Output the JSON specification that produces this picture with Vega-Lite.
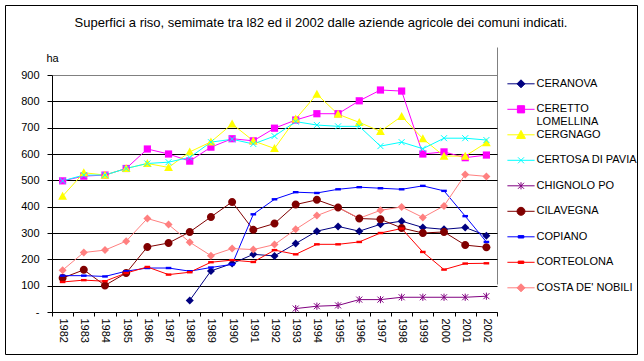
{
  "$schema": "https://vega.github.io/schema/vega-lite/v6.json",
  "width": 632,
  "height": 349,
  "autosize": "none",
  "padding": {"left": 5, "top": 5, "right": 7, "bottom": 7},
  "background": "white",
  "title": {
    "text": "Superfici a riso, semimate tra l82 ed il 2002 dalle aziende agricole dei comuni indicati.",
    "anchor": "middle",
    "frame": "group",
    "orient": "top",
    "offset": -31,
    "baseline": "middle",
    "font": "Liberation Sans",
    "fontSize": 13,
    "fontWeight": "normal",
    "color": "black"
  },
  "config": {
    "view": {"stroke": "black", "strokeWidth": 1},
    "axis": {"labelFont": "Liberation Sans", "labelFontSize": 11, "labelColor": "black", "tickColor": "black", "domainColor": "black", "titleFont": "Liberation Sans"}
  },
  "data": {"values": [
    {"y": "1988", "s": "CERANOVA", "v": 44}, {"y": "1989", "s": "CERANOVA", "v": 156}, {"y": "1990", "s": "CERANOVA", "v": 184}, {"y": "1991", "s": "CERANOVA", "v": 219}, {"y": "1992", "s": "CERANOVA", "v": 213}, {"y": "1993", "s": "CERANOVA", "v": 260}, {"y": "1994", "s": "CERANOVA", "v": 307}, {"y": "1995", "s": "CERANOVA", "v": 325}, {"y": "1996", "s": "CERANOVA", "v": 307}, {"y": "1997", "s": "CERANOVA", "v": 333}, {"y": "1998", "s": "CERANOVA", "v": 345}, {"y": "1999", "s": "CERANOVA", "v": 321}, {"y": "2000", "s": "CERANOVA", "v": 314}, {"y": "2001", "s": "CERANOVA", "v": 321}, {"y": "2002", "s": "CERANOVA", "v": 290},
    {"y": "1982", "s": "CERETTO LOMELLINA", "v": 498}, {"y": "1983", "s": "CERETTO LOMELLINA", "v": 516}, {"y": "1984", "s": "CERETTO LOMELLINA", "v": 520}, {"y": "1985", "s": "CERETTO LOMELLINA", "v": 545}, {"y": "1986", "s": "CERETTO LOMELLINA", "v": 619}, {"y": "1987", "s": "CERETTO LOMELLINA", "v": 600}, {"y": "1988", "s": "CERETTO LOMELLINA", "v": 573}, {"y": "1989", "s": "CERETTO LOMELLINA", "v": 626}, {"y": "1990", "s": "CERETTO LOMELLINA", "v": 658}, {"y": "1991", "s": "CERETTO LOMELLINA", "v": 650}, {"y": "1992", "s": "CERETTO LOMELLINA", "v": 698}, {"y": "1993", "s": "CERETTO LOMELLINA", "v": 729}, {"y": "1994", "s": "CERETTO LOMELLINA", "v": 753}, {"y": "1995", "s": "CERETTO LOMELLINA", "v": 753}, {"y": "1996", "s": "CERETTO LOMELLINA", "v": 802}, {"y": "1997", "s": "CERETTO LOMELLINA", "v": 843}, {"y": "1998", "s": "CERETTO LOMELLINA", "v": 839}, {"y": "1999", "s": "CERETTO LOMELLINA", "v": 600}, {"y": "2000", "s": "CERETTO LOMELLINA", "v": 608}, {"y": "2001", "s": "CERETTO LOMELLINA", "v": 586}, {"y": "2002", "s": "CERETTO LOMELLINA", "v": 596},
    {"y": "1982", "s": "CERGNAGO", "v": 440}, {"y": "1983", "s": "CERGNAGO", "v": 529}, {"y": "1984", "s": "CERGNAGO", "v": 520}, {"y": "1985", "s": "CERGNAGO", "v": 545}, {"y": "1986", "s": "CERGNAGO", "v": 564}, {"y": "1987", "s": "CERGNAGO", "v": 549}, {"y": "1988", "s": "CERGNAGO", "v": 608}, {"y": "1989", "s": "CERGNAGO", "v": 646}, {"y": "1990", "s": "CERGNAGO", "v": 714}, {"y": "1991", "s": "CERGNAGO", "v": 650}, {"y": "1992", "s": "CERGNAGO", "v": 621}, {"y": "1993", "s": "CERGNAGO", "v": 733}, {"y": "1994", "s": "CERGNAGO", "v": 827}, {"y": "1995", "s": "CERGNAGO", "v": 751}, {"y": "1996", "s": "CERGNAGO", "v": 720}, {"y": "1997", "s": "CERGNAGO", "v": 686}, {"y": "1998", "s": "CERGNAGO", "v": 743}, {"y": "1999", "s": "CERGNAGO", "v": 658}, {"y": "2000", "s": "CERGNAGO", "v": 592}, {"y": "2001", "s": "CERGNAGO", "v": 592}, {"y": "2002", "s": "CERGNAGO", "v": 643},
    {"y": "1982", "s": "CERTOSA DI PAVIA", "v": 498}, {"y": "1983", "s": "CERTOSA DI PAVIA", "v": 520}, {"y": "1984", "s": "CERTOSA DI PAVIA", "v": 520}, {"y": "1985", "s": "CERTOSA DI PAVIA", "v": 545}, {"y": "1986", "s": "CERTOSA DI PAVIA", "v": 564}, {"y": "1987", "s": "CERTOSA DI PAVIA", "v": 569}, {"y": "1988", "s": "CERTOSA DI PAVIA", "v": 587}, {"y": "1989", "s": "CERTOSA DI PAVIA", "v": 645}, {"y": "1990", "s": "CERTOSA DI PAVIA", "v": 656}, {"y": "1991", "s": "CERTOSA DI PAVIA", "v": 638}, {"y": "1992", "s": "CERTOSA DI PAVIA", "v": 668}, {"y": "1993", "s": "CERTOSA DI PAVIA", "v": 723}, {"y": "1994", "s": "CERTOSA DI PAVIA", "v": 710}, {"y": "1995", "s": "CERTOSA DI PAVIA", "v": 705}, {"y": "1996", "s": "CERTOSA DI PAVIA", "v": 705}, {"y": "1997", "s": "CERTOSA DI PAVIA", "v": 630}, {"y": "1998", "s": "CERTOSA DI PAVIA", "v": 645}, {"y": "1999", "s": "CERTOSA DI PAVIA", "v": 620}, {"y": "2000", "s": "CERTOSA DI PAVIA", "v": 660}, {"y": "2001", "s": "CERTOSA DI PAVIA", "v": 660}, {"y": "2002", "s": "CERTOSA DI PAVIA", "v": 653},
    {"y": "1993", "s": "CHIGNOLO PO", "v": 13}, {"y": "1994", "s": "CHIGNOLO PO", "v": 22}, {"y": "1995", "s": "CHIGNOLO PO", "v": 25}, {"y": "1996", "s": "CHIGNOLO PO", "v": 47}, {"y": "1997", "s": "CHIGNOLO PO", "v": 47}, {"y": "1998", "s": "CHIGNOLO PO", "v": 56}, {"y": "1999", "s": "CHIGNOLO PO", "v": 56}, {"y": "2000", "s": "CHIGNOLO PO", "v": 56}, {"y": "2001", "s": "CHIGNOLO PO", "v": 56}, {"y": "2002", "s": "CHIGNOLO PO", "v": 60},
    {"y": "1982", "s": "CILAVEGNA", "v": 129}, {"y": "1983", "s": "CILAVEGNA", "v": 160}, {"y": "1984", "s": "CILAVEGNA", "v": 101}, {"y": "1985", "s": "CILAVEGNA", "v": 148}, {"y": "1986", "s": "CILAVEGNA", "v": 247}, {"y": "1987", "s": "CILAVEGNA", "v": 262}, {"y": "1988", "s": "CILAVEGNA", "v": 304}, {"y": "1989", "s": "CILAVEGNA", "v": 361}, {"y": "1990", "s": "CILAVEGNA", "v": 418}, {"y": "1991", "s": "CILAVEGNA", "v": 312}, {"y": "1992", "s": "CILAVEGNA", "v": 336}, {"y": "1993", "s": "CILAVEGNA", "v": 408}, {"y": "1994", "s": "CILAVEGNA", "v": 426}, {"y": "1995", "s": "CILAVEGNA", "v": 397}, {"y": "1996", "s": "CILAVEGNA", "v": 355}, {"y": "1997", "s": "CILAVEGNA", "v": 352}, {"y": "1998", "s": "CILAVEGNA", "v": 319}, {"y": "1999", "s": "CILAVEGNA", "v": 300}, {"y": "2000", "s": "CILAVEGNA", "v": 304}, {"y": "2001", "s": "CILAVEGNA", "v": 254}, {"y": "2002", "s": "CILAVEGNA", "v": 246},
    {"y": "1982", "s": "COPIANO", "v": 138}, {"y": "1983", "s": "COPIANO", "v": 138}, {"y": "1984", "s": "COPIANO", "v": 135}, {"y": "1985", "s": "COPIANO", "v": 155}, {"y": "1986", "s": "COPIANO", "v": 167}, {"y": "1987", "s": "COPIANO", "v": 167}, {"y": "1988", "s": "COPIANO", "v": 155}, {"y": "1989", "s": "COPIANO", "v": 169}, {"y": "1990", "s": "COPIANO", "v": 181}, {"y": "1991", "s": "COPIANO", "v": 371}, {"y": "1992", "s": "COPIANO", "v": 428}, {"y": "1993", "s": "COPIANO", "v": 455}, {"y": "1994", "s": "COPIANO", "v": 452}, {"y": "1995", "s": "COPIANO", "v": 466}, {"y": "1996", "s": "COPIANO", "v": 474}, {"y": "1997", "s": "COPIANO", "v": 470}, {"y": "1998", "s": "COPIANO", "v": 466}, {"y": "1999", "s": "COPIANO", "v": 479}, {"y": "2000", "s": "COPIANO", "v": 460}, {"y": "2001", "s": "COPIANO", "v": 364}, {"y": "2002", "s": "COPIANO", "v": 266},
    {"y": "1982", "s": "CORTEOLONA", "v": 114}, {"y": "1983", "s": "CORTEOLONA", "v": 121}, {"y": "1984", "s": "CORTEOLONA", "v": 117}, {"y": "1985", "s": "CORTEOLONA", "v": 148}, {"y": "1986", "s": "CORTEOLONA", "v": 171}, {"y": "1987", "s": "CORTEOLONA", "v": 142}, {"y": "1988", "s": "CORTEOLONA", "v": 151}, {"y": "1989", "s": "CORTEOLONA", "v": 189}, {"y": "1990", "s": "CORTEOLONA", "v": 197}, {"y": "1991", "s": "CORTEOLONA", "v": 190}, {"y": "1992", "s": "CORTEOLONA", "v": 235}, {"y": "1993", "s": "CORTEOLONA", "v": 219}, {"y": "1994", "s": "CORTEOLONA", "v": 257}, {"y": "1995", "s": "CORTEOLONA", "v": 257}, {"y": "1996", "s": "CORTEOLONA", "v": 266}, {"y": "1997", "s": "CORTEOLONA", "v": 300}, {"y": "1998", "s": "CORTEOLONA", "v": 317}, {"y": "1999", "s": "CORTEOLONA", "v": 228}, {"y": "2000", "s": "CORTEOLONA", "v": 161}, {"y": "2001", "s": "CORTEOLONA", "v": 184}, {"y": "2002", "s": "CORTEOLONA", "v": 185},
    {"y": "1982", "s": "COSTA DE' NOBILI", "v": 159}, {"y": "1983", "s": "COSTA DE' NOBILI", "v": 226}, {"y": "1984", "s": "COSTA DE' NOBILI", "v": 235}, {"y": "1985", "s": "COSTA DE' NOBILI", "v": 269}, {"y": "1986", "s": "COSTA DE' NOBILI", "v": 355}, {"y": "1987", "s": "COSTA DE' NOBILI", "v": 332}, {"y": "1988", "s": "COSTA DE' NOBILI", "v": 265}, {"y": "1989", "s": "COSTA DE' NOBILI", "v": 214}, {"y": "1990", "s": "COSTA DE' NOBILI", "v": 241}, {"y": "1991", "s": "COSTA DE' NOBILI", "v": 237}, {"y": "1992", "s": "COSTA DE' NOBILI", "v": 256}, {"y": "1993", "s": "COSTA DE' NOBILI", "v": 314}, {"y": "1994", "s": "COSTA DE' NOBILI", "v": 366}, {"y": "1995", "s": "COSTA DE' NOBILI", "v": 397}, {"y": "1996", "s": "COSTA DE' NOBILI", "v": 356}, {"y": "1997", "s": "COSTA DE' NOBILI", "v": 386}, {"y": "1998", "s": "COSTA DE' NOBILI", "v": 399}, {"y": "1999", "s": "COSTA DE' NOBILI", "v": 359}, {"y": "2000", "s": "COSTA DE' NOBILI", "v": 403}, {"y": "2001", "s": "COSTA DE' NOBILI", "v": 522}, {"y": "2002", "s": "COSTA DE' NOBILI", "v": 515}
  ]},
  "encoding": {
    "x": {
      "field": "y", "type": "ordinal",
      "scale": {"type": "band", "range": [47, 492], "paddingInner": 0, "paddingOuter": 0},
      "axis": {
        "title": null, "tickBand": "extent", "labelAngle": 90, "tickSize": 4, "labelPadding": 2, "offset": -42, "labelOverlap": false,
        "grid": true, "gridColor": "#808080",
        "gridOpacity": {"condition": {"test": "datum.value == '2002'", "value": 1}, "value": 0}
      }
    },
    "y": {
      "field": "v", "type": "quantitative",
      "scale": {"domain": [0, 900], "range": [307, 70], "nice": false, "zero": true},
      "axis": {
        "title": "ha", "titleAngle": 0, "titleX": -6, "titleY": 53, "titleAlign": "left", "titleBaseline": "middle",
        "titleFontSize": 11, "titleFontWeight": "normal", "titleColor": "black",
        "values": [0, 100, 200, 300, 400, 500, 600, 700, 800, 900],
        "labelExpr": "datum.value == 0 ? '-' : datum.label",
        "grid": true,
        "gridColor": {"condition": {"test": "datum.value == 900", "value": "#808080"}, "value": "#000000"},
        "gridOpacity": 1,
        "offset": -47, "tickSize": 5, "labelPadding": 8
      }
    },
    "color": {
      "field": "s", "type": "nominal",
      "scale": {
        "domain": ["CERANOVA", "CERETTO LOMELLINA", "CERGNAGO", "CERTOSA DI PAVIA", "CHIGNOLO PO", "CILAVEGNA", "COPIANO", "CORTEOLONA", "COSTA DE' NOBILI"],
        "range": ["#000080", "#FF00FF", "#FFFF00", "#00FFFF", "#800080", "#800000", "#0000FF", "#FF0000", "#FF8080"]
      },
      "legend": {
        "orient": "none", "legendX": 510.5, "legendY": 73.3, "title": null, "padding": 0,
        "labelOffset": 10, "symbolSize": 64, "rowPadding": 0.5, "gridAlign": "all",
        "labelFont": "Liberation Sans", "labelFontSize": 11, "labelColor": "black", "labelLimit": 200,
        "labelExpr": "datum.label == 'CERETTO LOMELLINA' ? ['CERETTO', 'LOMELLINA'] : datum.label",
        "encode": {
          "symbols": {
            "update": {
              "shape": {"signal": "['M-3.4,0H3.4M0,-1L1,0L0,1L-1,0Z', 'M-3.4,0H3.4M-0.9,-0.9H0.9V0.9H-0.9Z', 'M-3.4,0H3.4M0,-1.1L1.1,0.9H-1.1Z', 'M-3.4,0H3.4M-0.75,-0.75L0.75,0.75M-0.75,0.75L0.75,-0.75', 'M-3.4,0H3.4M-0.75,-0.75L0.75,0.75M-0.75,0.75L0.75,-0.75M0,-0.9V0.9', 'M-3.4,0H3.4M-1,0A1,1,0,1,0,1,0A1,1,0,1,0,-1,0Z', 'M-3.4,0H3.4M-0.7,-0.3H0.7V0.3H-0.7Z', 'M-3.4,0H3.4M-0.7,-0.3H0.7V0.3H-0.7Z', 'M-3.4,0H3.4M0,-1L1,0L0,1L-1,0Z'][indexof(domain('color'), datum.value)]"},
              "size": {"value": 64},
              "fill": {"signal": "scale('color', datum.value)"},
              "stroke": {"signal": "scale('color', datum.value)"},
              "strokeWidth": {"value": 1},
              "opacity": {"value": 1}
            }
          }
        }
      }
    }
  },
  "layer": [
    {"mark": {"type": "line", "strokeWidth": 1}},
    {
      "transform": [{"filter": "datum.s == 'CERANOVA' || datum.s == \"COSTA DE' NOBILI\""}],
      "mark": {"type": "point", "filled": true, "size": 64, "opacity": 1, "shape": "M0,-1L1,0L0,1L-1,0Z"}
    },
    {
      "transform": [{"filter": "datum.s == 'CERETTO LOMELLINA'"}],
      "mark": {"type": "point", "filled": true, "size": 64, "opacity": 1, "shape": "M-0.9,-0.9H0.9V0.9H-0.9Z"}
    },
    {
      "transform": [{"filter": "datum.s == 'CERGNAGO'"}],
      "mark": {"type": "point", "filled": true, "size": 64, "opacity": 1, "shape": "M0,-1.1L1.1,0.9H-1.1Z"}
    },
    {
      "transform": [{"filter": "datum.s == 'CERTOSA DI PAVIA'"}],
      "mark": {"type": "point", "filled": false, "size": 64, "strokeWidth": 1, "opacity": 1, "shape": "M-0.75,-0.75L0.75,0.75M-0.75,0.75L0.75,-0.75"}
    },
    {
      "transform": [{"filter": "datum.s == 'CHIGNOLO PO'"}],
      "mark": {"type": "point", "filled": false, "size": 64, "strokeWidth": 1, "opacity": 1, "shape": "M-0.75,-0.75L0.75,0.75M-0.75,0.75L0.75,-0.75M0,-0.9V0.9"}
    },
    {
      "transform": [{"filter": "datum.s == 'CILAVEGNA'"}],
      "mark": {"type": "point", "filled": true, "size": 64, "opacity": 1, "shape": "M-1,0A1,1,0,1,0,1,0A1,1,0,1,0,-1,0Z"}
    },
    {
      "transform": [{"filter": "datum.s == 'COPIANO' || datum.s == 'CORTEOLONA'"}],
      "mark": {"type": "point", "filled": true, "size": 64, "opacity": 1, "shape": "M-0.7,-0.3H0.7V0.3H-0.7Z"}
    }
  ]
}
